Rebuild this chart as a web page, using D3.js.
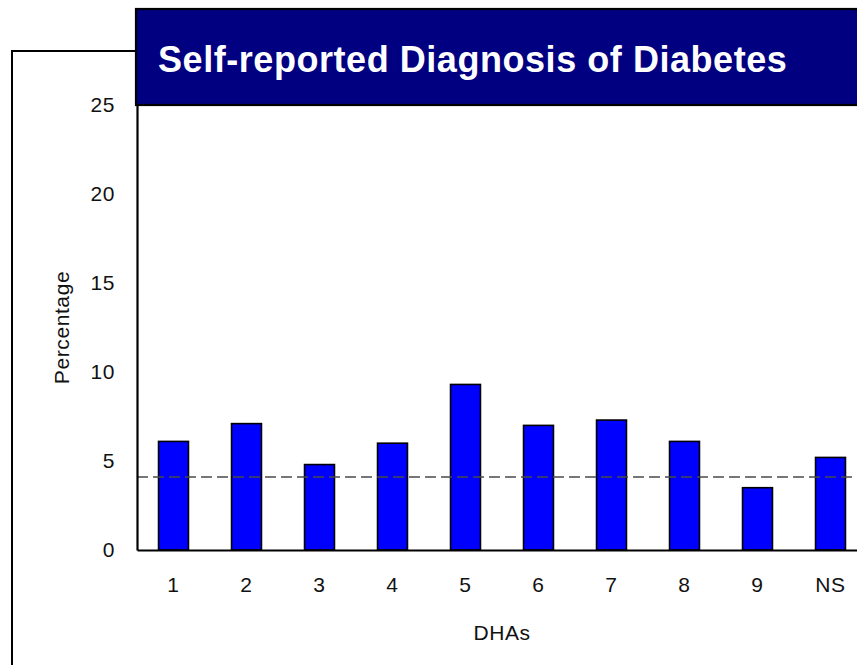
<!DOCTYPE html>
<html>
<head>
<meta charset="utf-8">
<script src="https://cdn.jsdelivr.net/npm/d3@7"></script>
<style>
  html, body { margin: 0; padding: 0; background: #fff; }
  svg { display: block; font-family: Arial, "Liberation Sans", sans-serif; }
</style>
</head>
<body>
<script>
// Health district areas and the share reporting a diabetes diagnosis
const categories = ["1", "2", "3", "4", "5", "6", "7", "8", "9", "NS"];
const percentages = [6.1, 7.1, 4.8, 6.0, 9.3, 7.0, 7.3, 6.1, 3.5, 5.2];
const provincialAverage = 4.1;
const yTicks = [0, 5, 10, 15, 20, 25];
const titleText = "Self-reported Diagnosis of Diabetes";
const xTitle = "DHAs";
const yTitle = "Percentage";

const W = 857, H = 665;
const plot = { left: 137, right: 867, top: 105, bottom: 550 };
const labelFont = 21;

const svg = d3.select("body").append("svg")
  .attr("width", W).attr("height", H);

const x = d3.scaleBand()
  .domain(categories)
  .range([plot.left, plot.right])
  .paddingInner(0.59)
  .paddingOuter(0.295);

const y = d3.scaleLinear()
  .domain([0, 25])
  .range([plot.bottom, plot.top]);

// outer frame behind the chart
svg.append("path")
  .attr("d", `M12,${H + 5} L12,51 L137,51`)
  .attr("fill", "none").attr("stroke", "#000").attr("stroke-width", 2);

// bars
svg.append("g").selectAll("rect")
  .data(percentages)
  .join("rect")
  .attr("x", (d, i) => x(categories[i]))
  .attr("y", d => y(d))
  .attr("width", x.bandwidth())
  .attr("height", d => y(0) - y(d))
  .attr("fill", "#0000ff")
  .attr("stroke", "#000")
  .attr("stroke-width", 1.6);

// average reference line
svg.append("line")
  .attr("x1", plot.left).attr("x2", W)
  .attr("y1", y(provincialAverage)).attr("y2", y(provincialAverage))
  .attr("stroke", "#4a4a4a").attr("stroke-width", 1.6)
  .attr("stroke-dasharray", "11,5");

// y axis
const yAxis = svg.append("g")
  .attr("transform", `translate(${plot.left},0)`)
  .call(d3.axisLeft(y).tickValues(yTicks).tickSize(0).tickPadding(22));
yAxis.select(".domain").attr("stroke", "#000").attr("stroke-width", 2.2);
yAxis.selectAll("text").attr("font-size", labelFont).attr("fill", "#111")
  .attr("letter-spacing", 0.6)
  .attr("font-family", "Arial, 'Liberation Sans', sans-serif");

// x axis
const xAxis = svg.append("g")
  .attr("transform", `translate(0,${plot.bottom})`)
  .call(d3.axisBottom(x).tickSize(0).tickPadding(27));
xAxis.select(".domain").attr("stroke", "#000").attr("stroke-width", 2.2);
xAxis.selectAll("text").attr("font-size", labelFont).attr("fill", "#111")
  .attr("letter-spacing", 0.6)
  .attr("font-family", "Arial, 'Liberation Sans', sans-serif");

// axis titles
svg.append("text")
  .attr("x", (plot.left + plot.right) / 2).attr("y", 640)
  .attr("text-anchor", "middle")
  .attr("font-size", labelFont).attr("fill", "#111")
  .attr("letter-spacing", 0.6)
  .text(xTitle);

svg.append("text")
  .attr("transform", `translate(69,${(plot.top + plot.bottom) / 2}) rotate(-90)`)
  .attr("text-anchor", "middle")
  .attr("font-size", labelFont).attr("fill", "#111")
  .attr("letter-spacing", 0.6)
  .text(yTitle);

// title banner
svg.append("rect")
  .attr("x", 136).attr("y", 9)
  .attr("width", W).attr("height", 96)
  .attr("fill", "#000080")
  .attr("stroke", "#000").attr("stroke-width", 2.2);

svg.append("text")
  .attr("x", 158).attr("y", 72)
  .attr("font-size", 36).attr("font-weight", "bold")
  .attr("letter-spacing", 0.55)
  .attr("fill", "#fff")
  .text(titleText);
</script>
</body>
</html>
